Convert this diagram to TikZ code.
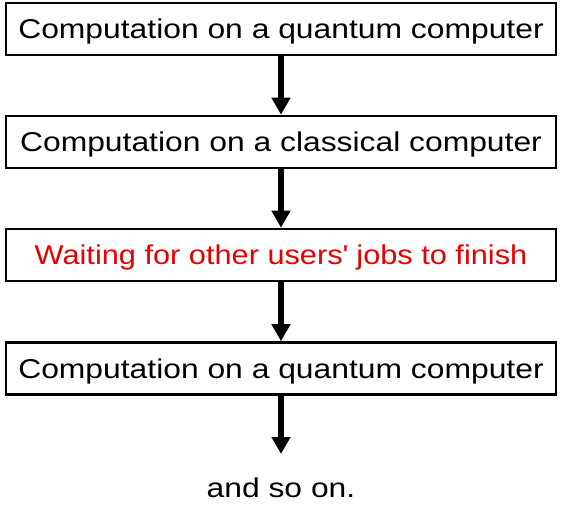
\documentclass[tikz,border=0pt]{standalone}
\usepackage{fontspec}
\setmainfont[FakeStretch=1.17]{Liberation Sans}
\newfontfamily\narrowfont[FakeStretch=1.13]{Liberation Sans}
\usetikzlibrary{arrows.meta}
\begin{document}
\begin{tikzpicture}[x=0.75pt,y=-0.75pt,
  box/.style={draw=black, line width=1.9pt, rectangle, minimum width=412.5pt, minimum height=39pt,
    inner sep=0pt, text height=14.25pt, text depth=0pt, font=\fontsize{20.4pt}{24pt}\selectfont},
  flow/.style={line width=4.5pt, -{Triangle[width=13.5pt,length=12.75pt]}},
  plain/.style={font=\fontsize{20.4pt}{24pt}\selectfont, inner sep=0pt}]
\useasboundingbox (0,0) rectangle (563,526);
\node[box] (b1) at (281,29) {Computation on a quantum computer};
\node[box] (b2) at (281,142) {Computation on a classical computer};
\node[box, text={rgb,255:red,230;green,0;blue,0}, font=\narrowfont\fontsize{20.4pt}{24pt}\selectfont] (b3) at (281,255) {Waiting for other users\textquotesingle\ jobs to finish};
\node[box] (b4) at (281,368.5) {Computation on a quantum computer};
\coordinate (end) at (281,454);
\node[plain, anchor=base] (more) at (281,497) {and so on.};
\draw[flow] (b1.south) -- (b2.north);
\draw[flow] (b2.south) -- (b3.north);
\draw[flow] (b3.south) -- (b4.north);
\draw[flow] (b4.south) -- (end);
\end{tikzpicture}
\end{document}
